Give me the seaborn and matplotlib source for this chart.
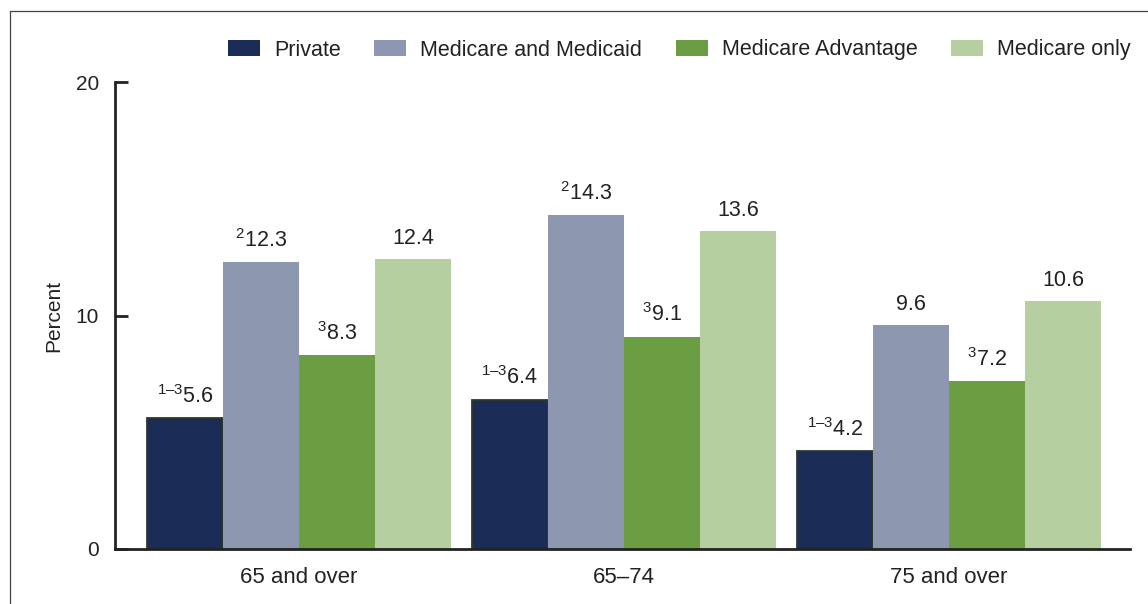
import pandas as pd
import matplotlib.pyplot as plt
import seaborn as sns
from matplotlib.lines import Line2D

# datos
grupos = ["65 and over", "65\u201374", "75 and over"]
series = ["Private", "Medicare and Medicaid", "Medicare Advantage", "Medicare only"]
privado = [5.6, 6.4, 4.2]
medicare_medicaid = [12.3, 14.3, 9.6]
medicare_advantage = [8.3, 9.1, 7.2]
medicare_solo = [12.4, 13.6, 10.6]
notas_privado = ["1\u20133", "1\u20133", "1\u20133"]
notas_medicaid = ["2", "2", ""]
notas_advantage = ["3", "3", "3"]
notas_solo = ["", "", ""]
colores = ["#1b2d56", "#8d97b0", "#6b9e42", "#b5cfa0"]

valores = [privado, medicare_medicaid, medicare_advantage, medicare_solo]
notas = [notas_privado, notas_medicaid, notas_advantage, notas_solo]

filas = []
for s, vals in zip(series, valores):
    for g, v in zip(grupos, vals):
        filas.append({"grupo": g, "serie": s, "valor": v})
df = pd.DataFrame(filas)

sns.set_theme(style="white")
plt.rcParams["font.family"] = ["Liberation Sans", "DejaVu Sans"]
plt.rcParams["mathtext.default"] = "regular"
plt.rcParams["mathtext.fontset"] = "custom"
plt.rcParams["mathtext.rm"] = "Liberation Sans"

fig = plt.figure(figsize=(11.48, 6.04), dpi=100)
ax = fig.add_axes([115 / 1148, 1 - 549 / 604, (1130 - 115) / 1148, (549 - 82) / 604])

sns.barplot(data=df, x="grupo", y="valor", hue="serie", order=grupos,
            hue_order=series, palette=colores, width=0.935, saturation=1,
            linewidth=0, ax=ax, legend=True)

# borde oscuro en las barras de "Private"
for p in ax.containers[0]:
    p.set_edgecolor("#2d3a2a")
    p.set_linewidth(1.3)

# etiquetas de valor con superindices
for cont, vals, nts in zip(ax.containers, valores, notas):
    for p, v, n in zip(cont, vals, nts):
        txt = f"{v:.1f}"
        if n:
            txt = "$^{" + n + "}$" + txt
        ax.annotate(txt, (p.get_x() + p.get_width() / 2, p.get_height()),
                    xytext=(0, 11), textcoords="offset points",
                    ha="center", va="baseline", fontsize=15.5, color="#222222")

ax.set_ylim(0, 20)
ax.set_xlim(-0.566, 2.557)
ax.set_yticks([0, 10, 20])
ax.set_xlabel("")
ax.set_ylabel("Percent", fontsize=15, color="#222222", labelpad=9)
ax.tick_params(axis="y", direction="in", length=9.5, width=2, color="#222222",
               labelsize=15, labelcolor="#222222", pad=11.5, left=True)
ax.tick_params(axis="x", length=0, labelsize=16, labelcolor="#222222", pad=13)
sns.despine(ax=ax)
for lado in ["left", "bottom"]:
    ax.spines[lado].set_linewidth(2)
    ax.spines[lado].set_color("#222222")

leg = ax.legend(ncol=4, frameon=False, fontsize=15.5, loc="center right",
                bbox_to_anchor=(1131 / 1148, 1 - 50 / 604),
                bbox_transform=fig.transFigure, borderaxespad=0, borderpad=0,
                handlelength=1.5, handleheight=0.72, handletextpad=0.65,
                columnspacing=1.55)
for t in leg.get_texts():
    t.set_color("#222222")

# marco de la figura
fig.add_artist(Line2D([10 / 1148, 1], [1 - 11 / 604, 1 - 11 / 604],
                      transform=fig.transFigure, color="#444444", linewidth=0.9))
fig.add_artist(Line2D([10 / 1148, 10 / 1148], [0, 1 - 11 / 604],
                      transform=fig.transFigure, color="#444444", linewidth=0.9))

plt.savefig("out.png", dpi=100)
